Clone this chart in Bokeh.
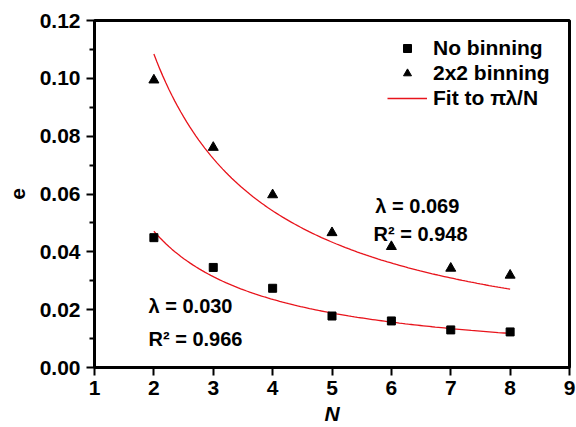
import numpy as np
from bokeh.plotting import figure
from bokeh.models import Range1d, FixedTicker, Legend, LegendItem, Label, CustomJSTickFormatter
from bokeh.embed import file_html
from bokeh.resources import INLINE

# ---- data ----
N = [2, 3, 4, 5, 6, 7, 8]
no_binning = [0.0449, 0.0346, 0.0274, 0.0178, 0.0161, 0.0130, 0.0123]
binning_2x2 = [0.0994, 0.0761, 0.0597, 0.0466, 0.0418, 0.0343, 0.0319]
lambda_no = 0.030
lambda_2x2 = 0.069
r2_no = 0.966
r2_2x2 = 0.948
x_ticks = [1, 2, 3, 4, 5, 6, 7, 8, 9]
y_ticks = [0.00, 0.02, 0.04, 0.06, 0.08, 0.10, 0.12]
y_minor = [0.01, 0.03, 0.05, 0.07, 0.09, 0.11]

FONT = "Liberation Sans"

p = figure(width=576, height=427, output_backend="svg", toolbar_location=None,
           x_range=Range1d(1, 9), y_range=Range1d(0, 0.12),
           min_border_left=94, min_border_right=7, min_border_top=20, min_border_bottom=57)
p.grid.visible = False
p.outline_line_color = "black"
p.outline_line_width = 3
p.background_fill_color = "white"

for ax in (p.xaxis[0], p.yaxis[0]):
    ax.axis_line_width = 3
    ax.major_tick_line_width = 2
    ax.minor_tick_line_width = 2
    ax.major_tick_out = 8
    ax.major_tick_in = 0
    ax.minor_tick_out = 5
    ax.minor_tick_in = 0
    ax.major_label_text_font = FONT
    ax.major_label_text_font_style = "bold"
    ax.major_label_text_font_size = "21px"
    ax.major_label_text_color = "black"
    ax.axis_label_text_font = FONT
    ax.axis_label_text_font_size = "21px"
    ax.axis_label_text_color = "black"

p.xaxis.ticker = FixedTicker(ticks=x_ticks, minor_ticks=[])
p.yaxis.ticker = FixedTicker(ticks=y_ticks, minor_ticks=y_minor)
p.yaxis.formatter = CustomJSTickFormatter(code="return tick.toFixed(2);")
p.xaxis.major_label_standoff = 5
p.yaxis.major_label_standoff = 6
p.xaxis.axis_label = "N"
p.xaxis.axis_label_text_font_style = "bold italic"
p.xaxis.axis_label_standoff = 4
p.yaxis.axis_label = "e"
p.yaxis.axis_label_text_font_style = "bold"
p.yaxis.axis_label_standoff = 12

# fit curves pi*lambda/N
nn = np.linspace(2, 8, 120)
fit_2x2 = np.pi * lambda_2x2 / nn
fit_no = np.pi * lambda_no / nn
l1 = p.line(nn, fit_2x2, line_color="#e8141c", line_width=1.3)
p.line(nn, fit_no, line_color="#e8141c", line_width=1.3)

sq = p.scatter(N, no_binning, marker="square", size=8, color="black")
tr = p.scatter(N, binning_2x2, marker="triangle", size=10, color="black")

legend = Legend(items=[LegendItem(label="No binning", renderers=[sq]),
                       LegendItem(label="2x2 binning", renderers=[tr]),
                       LegendItem(label="Fit to πλ/N", renderers=[l1])],
                location=(293, 257), padding=0, margin=0, spacing=1,
                glyph_width=40, glyph_height=20, label_height=20, label_standoff=6,
                border_line_color=None, background_fill_alpha=0,
                label_text_font=FONT, label_text_font_style="bold",
                label_text_font_size="21px", label_text_color="black")
p.add_layout(legend, "center")

def lab(x, y, t):
    p.add_layout(Label(x=x, y=y, text=t, text_font=FONT, text_font_style="bold",
                       text_font_size="20px", text_baseline="middle", text_color="black"))

lab(5.73, 0.0559, f"λ = {lambda_2x2:.3f}")
lab(5.70, 0.0463, f"R² = {r2_2x2:.3f}")
lab(1.91, 0.0213, f"λ = {lambda_no:.3f}")
lab(1.91, 0.0099, f"R² = {r2_no:.3f}")

open("out.html", "w").write(file_html(p, INLINE))
